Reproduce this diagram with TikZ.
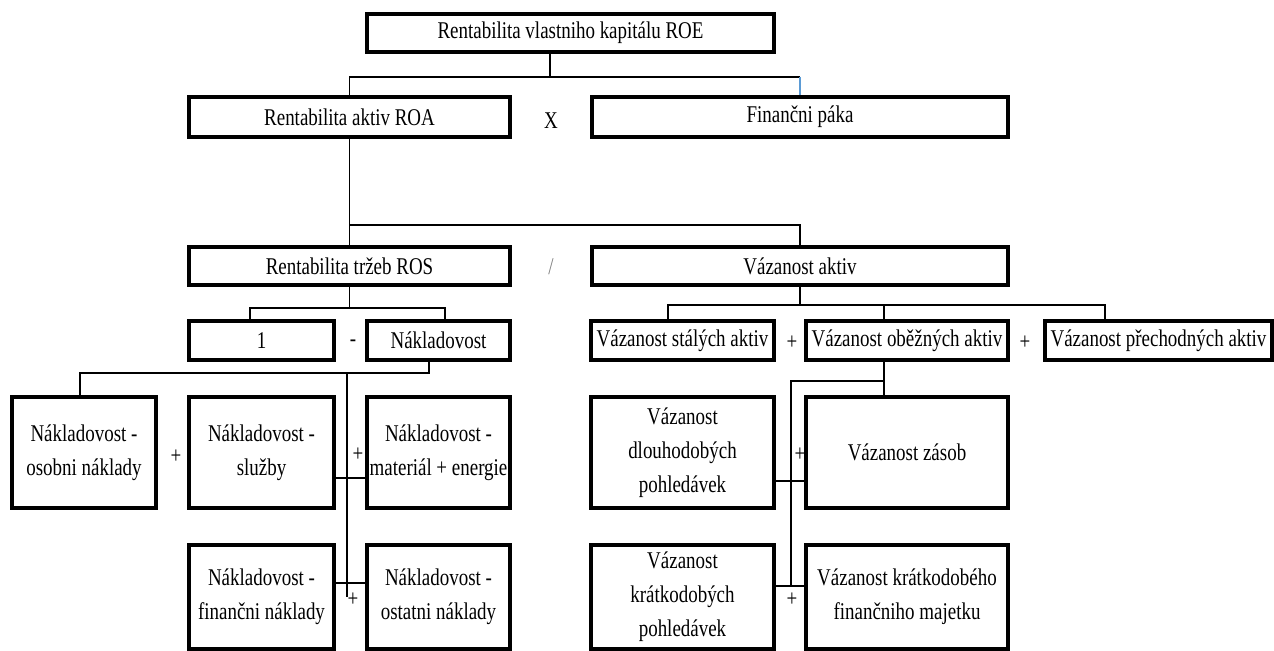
\documentclass[tikz,border=0pt]{standalone}
\usepackage{fontspec}
\setmainfont[FakeStretch=0.79]{Liberation Serif}
\definecolor{linkblue}{RGB}{91,155,213}
\begin{document}
\begin{tikzpicture}[x=0.5pt,y=-0.5pt,
    every node/.style={font=\fontsize{12pt}{17pt}\selectfont},
    box/.style={draw,line width=1.8pt,align=center,inner sep=0pt,minimum height=19pt},
    tallbox/.style={box,minimum height=55.5pt},
    lowbox/.style={box,minimum height=52pt},
    sign/.style={inner sep=0pt},
    link/.style={line width=0.85pt}]
  \useasboundingbox (0,0) rectangle (1274,651);
  % top levels
  \node[box,minimum width=203.5pt] (roe) at (570.5,33) {Rentabilita vlastniho kapitálu ROE};
  \node[box,minimum width=160.5pt,minimum height=20pt] (roa) at (349.5,117) {Rentabilita aktiv ROA};
  \node[box,minimum width=208pt,minimum height=20pt] (paka) at (800,117) {Finančni páka};
  \node[sign] (krat) at (551,121) {X};
  \node[box,minimum width=160.5pt] (ros) at (349.5,266) {Rentabilita tržeb ROS};
  \node[box,minimum width=208pt] (vaz) at (800,266) {Vázanost aktiv};
  \node[sign,text=gray] (deleno) at (551,267) {/};
  % third level
  \node[box,minimum width=72.5pt,minimum height=19.5pt] (one) at (261.5,340.5) {1};
  \node[box,minimum width=71.5pt,minimum height=19.5pt] (nakl) at (438.5,340.5) {Nákladovost};
  \node[sign] (minus) at (353,343) {-};
  \node[box,minimum width=91.5pt,minimum height=19.5pt] (stal) at (682.5,340.5) {Vázanost stálých aktiv};
  \node[box,minimum width=101pt,minimum height=19.5pt] (obez) at (907,340.5) {Vázanost oběžných aktiv};
  \node[box,minimum width=113.5pt,minimum height=19.5pt] (prech) at (1158.5,340.5) {Vázanost přechodných aktiv};
  \node[sign] (plusa) at (792,343) {+};
  \node[sign] (plusb) at (1025,343) {+};
  % costs
  \node[tallbox,minimum width=72pt] (osob) at (84,452.5) {Nákladovost -\\osobni náklady};
  \node[tallbox,minimum width=72.5pt] (sluz) at (261.5,452.5) {Nákladovost -\\služby};
  \node[tallbox,minimum width=71.5pt] (mat) at (438.5,452.5) {Nákladovost -\\materiál + energie};
  \node[lowbox,minimum width=72.5pt] (fin) at (261.5,597) {Nákladovost -\\finančni náklady};
  \node[lowbox,minimum width=71.5pt] (ost) at (438.5,597) {Nákladovost -\\ostatni náklady};
  \node[sign] (plusc) at (176,457) {+};
  \node[sign] (plusd) at (358,455) {+};
  \node[sign] (pluse) at (353,600) {+};
  % current assets
  \node[tallbox,minimum width=91.5pt] (dlou) at (682.5,452.5) {Vázanost\\dlouhodobých\\pohledávek};
  \node[tallbox,minimum width=101pt] (zas) at (907,452.5) {Vázanost zásob};
  \node[lowbox,minimum width=91.5pt] (kpoh) at (682.5,597) {Vázanost\\krátkodobých\\pohledávek};
  \node[lowbox,minimum width=101pt] (fmaj) at (907,597) {Vázanost krátkodobého\\finančniho majetku};
  \node[sign] (plusf) at (800,455) {+};
  \node[sign] (plusg) at (792,600) {+};
  % junctions
  \coordinate (j1) at (550,77);
  \coordinate (j2) at (349.5,225);
  \coordinate (j3l) at (250,308);
  \coordinate (j3r) at (445,308);
  \coordinate (j4l) at (668,305);
  \coordinate (j4m) at (884,305);
  \coordinate (j4r) at (1105,305);
  \coordinate (j5l) at (80,373);
  \coordinate (j5r) at (429,373);
  \coordinate (j5m) at (347,373);
  \coordinate (j6l) at (791,381);
  \coordinate (j6r) at (884,381);
  % connectors
  \draw[link] (roe.south -| j1) -- (j1);
  \draw[link] (roa.north) |- (j1) -- (j1 -| paka.north);
  \draw[link,linkblue] (j1 -| paka.north) -- (paka.north);
  \draw[link] (roa.south) -- (ros.north);
  \draw[link] (j2) -| (vaz.north);
  \draw[link] (ros.south) -- (ros.south |- j3l);
  \draw[link] (j3l |- one.north) -- (j3l) -- (j3r) -- (j3r |- nakl.north);
  \draw[link] (vaz.south) -- (vaz.south |- j4l);
  \draw[link] (j4l |- stal.north) -- (j4l) -- (j4r) -- (j4r |- prech.north);
  \draw[link] (j4m) -- (j4m |- obez.north);
  \draw[link] (nakl.south -| j5r) -- (j5r) -- (j5l) -- (j5l |- osob.north);
  \draw[link] (j5m) -- (j5m |- ost.west);
  \draw[link] (sluz.east |- 0,478) -- ([xshift=2pt]mat.west |- 0,478);
  \draw[link] (fin.east |- 0,583) -- (ost.west |- 0,583);
  \draw[link] (obez.south -| j6r) -- (j6r |- zas.north);
  \draw[link] (j6r) -- (j6l) -- (j6l |- 0,586);
  \draw[link] (dlou.east |- 0,481) -- (zas.west |- 0,481);
  \draw[link] (kpoh.east |- 0,586) -- ([xshift=1pt]fmaj.west |- 0,586);
\end{tikzpicture}
\end{document}
